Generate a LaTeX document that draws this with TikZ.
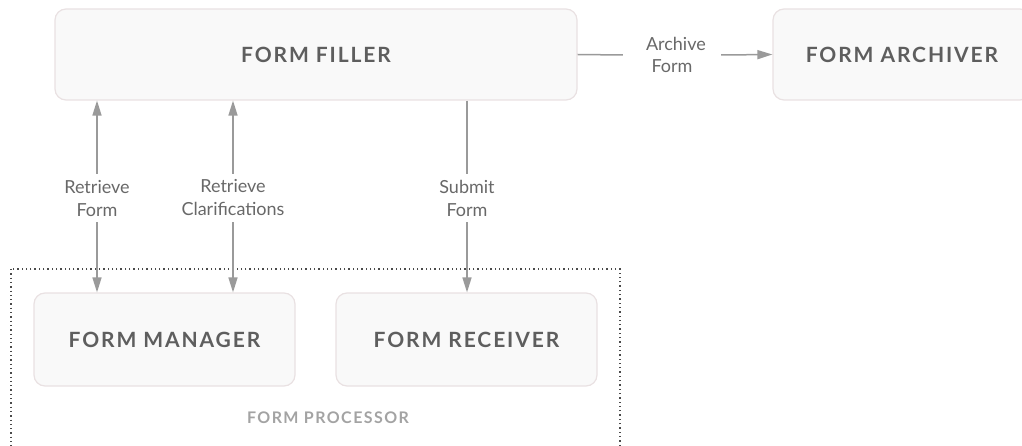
\documentclass[tikz,border=0pt]{standalone}
\usepackage{fontspec}
\setmainfont{Lato}
\newfontfamily\boxfont[LetterSpace=9]{Lato Bold}
\usetikzlibrary{arrows.meta}
\definecolor{boxfill}{HTML}{F9F9F9}
\definecolor{boxline}{HTML}{E9E1E2}
\definecolor{boxtext}{HTML}{5E5E5E}
\definecolor{flowgrey}{HTML}{9A9A9A}
\definecolor{labeltext}{HTML}{686868}
\definecolor{grouptext}{HTML}{A3A3A3}
\definecolor{groupline}{HTML}{4A4A4A}
\tikzset{
  component/.style={draw=boxline, line width=1.2pt, fill=boxfill, rounded corners=11pt,
    font=\boxfont\fontsize{21}{24}\selectfont, text=boxtext, inner sep=0pt},
  flowlabel/.style={font=\fontsize{18}{23}\selectfont, text=labeltext, align=center,
    inner xsep=2pt, inner ysep=6pt},
  flow/.style={draw=flowgrey, line width=1.5pt},
  flowarrow/.style={flow, -{Triangle[length=15pt,width=9pt]}},
  grouplabel/.style={font=\boxfont\fontsize{16}{19}\selectfont, text=grouptext},
  groupframe/.style={draw=groupline, line width=1.3pt, dash pattern=on 1.3pt off 3pt}
}
\begin{document}
\begin{tikzpicture}[x=1pt,y=-1pt]
\useasboundingbox (0,0) rectangle (1022,446);
\begin{scope}
\clip (0,0) rectangle (1022,446);

% processor group frame
\draw[groupframe] (11,269) rectangle (620,470);
\node[grouplabel] (proclabel) at (328,418) {FORM PROCESSOR};

% components
\node[component, minimum width=522pt, minimum height=91pt] (filler) at (316,54.5) {FORM FILLER};
\node[component, minimum width=258pt, minimum height=91pt] (archiver) at (902,54.5) {FORM ARCHIVER};
\node[component, minimum width=261pt, minimum height=93pt] (manager) at (164.5,339.5) {FORM MANAGER};
\node[component, minimum width=261pt, minimum height=93pt] (receiver) at (466.5,339.5) {FORM RECEIVER};

% flow labels
\node[flowlabel] (retform) at (97,198) {Retrieve\\Form};
\node[flowlabel] (retclar) at (233,198) {Retrieve\\Clarifications};
\node[flowlabel] (submit) at (467,198) {Submit\\Form};
\node[flowlabel, text width=52pt, inner xsep=0pt, font=\fontsize{18}{22}\selectfont] (archive) at (672,55) {Archive\\Form};

% retrieve form
\draw[flowarrow] (retform) -- (retform |- filler.south);
\draw[flowarrow] (retform) -- (retform |- manager.north);
% retrieve clarifications
\draw[flowarrow] (retclar) -- (retclar |- filler.south);
\draw[flowarrow] (retclar) -- (retclar |- manager.north);
% submit form
\draw[flow] (submit |- filler.south) -- (submit);
\draw[flowarrow] (submit) -- (submit |- receiver.north);
% archive form
\draw[flow] (filler.east) -- ([xshift=-23pt]archive.west);
\draw[flowarrow] ([xshift=23pt]archive.east) -- (archiver.west);
\end{scope}
\end{tikzpicture}
\end{document}
